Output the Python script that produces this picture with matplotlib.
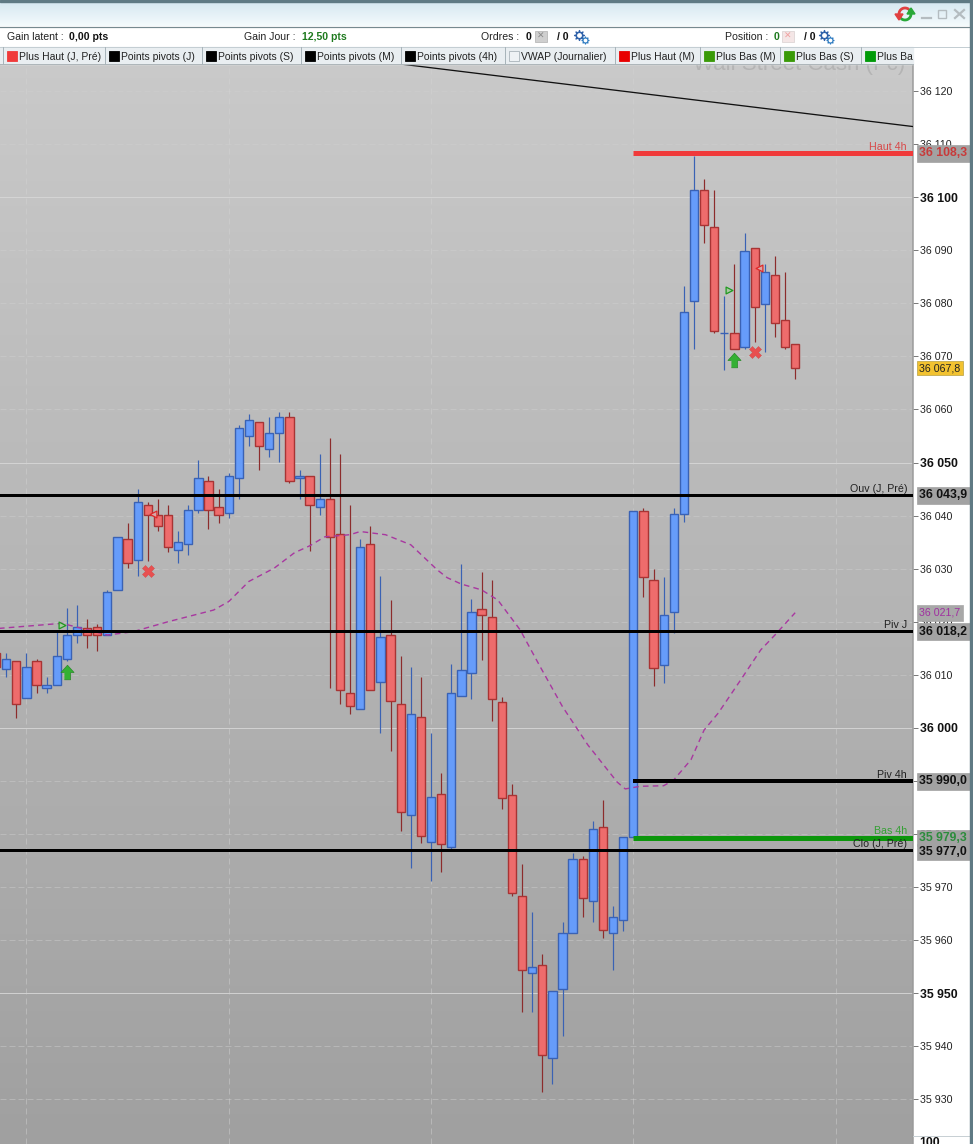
import numpy as np
import matplotlib
matplotlib.use("Agg")
import matplotlib.pyplot as plt
from matplotlib.patches import Rectangle, Polygon

plt.rcParams['font.family'] = ['Liberation Sans', 'DejaVu Sans']

# candles, first one is cut by the left edge
candle_idx = list(range(-1, 79))
opens = [36014.1, 36011.1, 36012.6, 36005.6, 36012.6, 36007.5, 36008.0, 36012.9, 36017.5, 36018.8,
         36019.0, 36017.5, 36025.9, 36035.6, 36031.6, 36042.0, 36040.1, 36040.1, 36033.5, 36034.6,
         36041.0, 36046.5, 36041.6, 36040.5, 36047.1, 36055.0, 36057.6, 36052.5, 36055.5, 36058.5,
         36047.0, 36047.4, 36041.6, 36043.1, 36036.5, 36006.5, 36003.5, 36034.6, 36008.6, 36017.5,
         36004.5, 35983.5, 36002.0, 35978.5, 35987.5, 35977.5, 36006.0, 36010.3, 36022.4, 36020.9,
         36004.8, 35987.3, 35968.3, 35953.8, 35955.3, 35937.8, 35950.8, 35961.3, 35975.3, 35967.3,
         35981.3, 35961.3, 35963.8, 35979.4, 36040.8, 36027.8, 36011.8, 36021.8, 36040.3, 36080.4,
         36101.3, 36094.3, 36074.4, 36074.4, 36071.7, 36090.4, 36079.8, 36085.3, 36076.8, 36072.3]
highs = [36014.6, 36014.2, 36012.6, 36014.2, 36012.9, 36009.6, 36018.0, 36022.6, 36023.1, 36020.5,
         36019.5, 36025.9, 36035.9, 36038.6, 36045.0, 36042.5, 36043.1, 36042.0, 36037.1, 36042.0,
         36050.4, 36047.4, 36045.0, 36048.0, 36057.0, 36059.1, 36057.6, 36058.5, 36059.5, 36059.5,
         36048.6, 36047.4, 36051.6, 36054.6, 36051.6, 36042.0, 36035.6, 36038.0, 36028.6, 36024.1,
         36013.5, 36011.4, 36009.6, 35999.0, 35991.5, 36012.0, 36030.8, 36024.3, 36029.3, 36027.8,
         36005.8, 35989.4, 35974.3, 35965.3, 35957.4, 35950.4, 35963.4, 35976.4, 35975.8, 35982.4,
         35986.4, 35966.4, 35979.4, 36040.8, 36041.4, 36029.9, 36028.4, 36041.4, 36083.2, 36107.8,
         36103.4, 36101.3, 36081.3, 36087.4, 36093.2, 36090.4, 36087.4, 36088.9, 36085.9, 36072.3]
lows = [36010.0, 36009.5, 36001.9, 36005.6, 36006.5, 36006.5, 36008.0, 36012.6, 36016.0, 36015.0,
        36014.5, 36017.5, 36025.9, 36030.1, 36028.6, 36031.4, 36037.1, 36033.1, 36031.0, 36032.5,
        36040.5, 36037.4, 36038.6, 36039.5, 36043.1, 36053.1, 36048.6, 36051.0, 36050.1, 36046.1,
        36043.1, 36033.4, 36040.1, 36007.5, 36004.5, 36002.6, 36003.5, 36007.1, 35999.0, 35995.6,
        35980.5, 35973.6, 35978.4, 35971.2, 35972.9, 35977.1, 36006.0, 36005.4, 36012.8, 36001.3,
        35984.8, 35968.3, 35946.4, 35946.4, 35931.4, 35932.9, 35941.9, 35961.3, 35964.3, 35963.4,
        35960.4, 35954.3, 35961.8, 35979.4, 36024.7, 36007.8, 36008.4, 36017.8, 36038.8, 36071.4,
        36091.3, 36074.4, 36067.4, 36071.4, 36071.4, 36072.7, 36070.8, 36073.7, 36071.4, 36065.8]
closes = [36011.5, 36012.9, 36004.5, 36011.4, 36008.0, 36008.0, 36013.5, 36017.5, 36019.0, 36017.5,
          36017.5, 36025.6, 36035.9, 36031.0, 36042.5, 36040.1, 36038.0, 36034.0, 36035.0, 36041.0,
          36047.1, 36041.0, 36040.1, 36047.4, 36056.5, 36058.0, 36053.1, 36055.5, 36058.5, 36046.5,
          36047.4, 36042.0, 36043.1, 36035.9, 36007.1, 36004.1, 36034.0, 36007.1, 36017.1, 36005.0,
          35984.1, 36002.6, 35979.6, 35986.9, 35978.1, 36006.5, 36010.9, 36021.8, 36021.2, 36005.4,
          35986.8, 35968.9, 35954.3, 35954.9, 35938.3, 35950.4, 35961.3, 35975.3, 35967.9, 35980.9,
          35961.9, 35964.3, 35979.4, 36040.8, 36028.4, 36011.2, 36021.2, 36040.3, 36078.3, 36101.3,
          36094.7, 36074.8, 36074.4, 36071.4, 36089.8, 36079.3, 36085.9, 36076.3, 36071.7, 36067.8]

# VWAP
vwap_idx = [-1, 5.5, 8, 10, 12.5, 16, 20.5, 22, 24, 26.5, 28.5, 30, 31.5, 34, 35, 37.5, 40, 42.6, 43.6,
            45, 47, 48.6, 50.8, 52.8, 55, 57.5, 60.4, 61.2, 62.7, 65, 66, 67.7, 69, 70.4, 72.6, 74.6, 76, 78]
vwap = [36018.7, 36019.7, 36018.5, 36017.5, 36018.1, 36020.0, 36022.2, 36023.8, 36027.6, 36030.1,
        36033.0, 36034.3, 36036.0, 36036.4, 36037.0, 36036.4, 36034.5, 36029.8, 36028.3, 36027.1,
        36026.0, 36024.1, 36018.5, 36011.5, 36004.0, 35996.8, 35989.8, 35988.5, 35989.0, 35989.1,
        35990.2, 35994.0, 35999.6, 36002.8, 36009.0, 36014.7, 36017.5, 36021.7]

# levels: price, start index, width px, colour, name
level_prices = [36108.3, 36043.9, 36018.2, 35990.0, 35979.3, 35977.0]
level_starts = [62, -1, -1, 62, 62, -1]
level_names = ['Haut 4h', 'Ouv (J, Pré)', 'Piv J', 'Piv 4h', 'Bas 4h', 'Clo (J, Pré)']
level_tags = ['36 108,3', '36 043,9', '36 018,2', '35 990,0', '35 979,3', '35 977,0']
level_colors = ['#f03a3a', 'black', 'black', 'black', '#0c960c', 'black']
level_widths = [5, 3, 3, 4, 5, 3]
name_colors = ['#d84848', '#222222', '#222222', '#222222', '#35a035', '#222222']
tag_colors = ['#c83a3a', '#111111', '#111111', '#111111', '#2c8c3c', '#111111']
tag_shift = [0, 0, 0, 0, 0, -1.3]

trend_x = [38.9, 89.65]
trend_y = [36125.1, 36113.3]

grid_idx = [2, 22, 42, 62, 82]
tick_prices = list(range(35930, 36130, 10))

buy_idx, buy_price = [6, 72], [36010.5, 36069.3]
sell_idx, sell_price = [14, 74], [36029.6, 36070.8]
entry_idx, entry_price = [5.5, 71.5], [36019.3, 36082.5]
exit_idx, exit_price = [14.5, 74.4], [36040.3, 36086.7]

tab_names = ['Plus Haut (J, Pré)', 'Points pivots (J)', 'Points pivots (S)', 'Points pivots (M)',
             'Points pivots (4h)', 'VWAP (Journalier)', 'Plus Haut (M)', 'Plus Bas (M)',
             'Plus Bas (S)', 'Plus Bas (J, Pré)']
tab_colors = ['#f03a3a', 'black', 'black', 'black', 'black', '#eef2f5', '#e80000', '#3a9a08', '#3a9a08', '#009a08']
tab_left = [3, 105, 202, 301, 401, 505, 615, 700, 780, 861]

W, H = 973, 1144
fig = plt.figure(figsize=(W / 100, H / 100), dpi=100, facecolor='white')


def px(v):
    return v * 0.72


# price chart
ax = fig.add_axes([0, (H - 1144) / H, 913 / W, (1144 - 48) / H], zorder=1)
ax.imshow(np.linspace(0, 1, 256).reshape(-1, 1), extent=(0, 1, 0, 1), transform=ax.transAxes,
          aspect='auto', cmap=matplotlib.colors.LinearSegmentedColormap.from_list('bg', ['#cacaca', '#a0a0a0']),
          zorder=0)
ax.set_xlim(-0.61, 89.65)
ax.set_ylim(35921.6, 36128.1)

for p in tick_prices:
    if p % 50 == 0:
        ax.axhline(p, color='#d8d8d8', lw=px(1), alpha=0.85, zorder=1)
    else:
        ax.axhline(p, color='#d0d0d0', lw=px(1), ls=(0, (6, 3)), alpha=0.45, zorder=1)
for g in grid_idx:
    ax.axvline(g, color='#d4d4d4', lw=px(1), ls=(0, (6, 4)), alpha=0.45, zorder=1)

for i, o, h, l, c in zip(candle_idx, opens, highs, lows, closes):
    up = c >= o
    wick = '#3a62b4' if up else '#8c2c2c'
    face = '#669cfa' if up else '#ee6c6c'
    edge = '#3a62b4' if up else '#a83434'
    ax.vlines(i, l, h, color=wick, lw=px(1.2), zorder=3)
    ax.bar(i, abs(c - o), bottom=min(o, c), width=0.82, color=face, edgecolor=edge, linewidth=px(1.4), zorder=4)

ax.plot(vwap_idx, vwap, color='#a838a0', lw=px(1.4), ls=(0, (4, 3)), zorder=5)
ax.plot(trend_x, trend_y, color='#111111', lw=px(1.3), zorder=6)

for p, s, c, w, n, nc in zip(level_prices, level_starts, level_colors, level_widths, level_names, name_colors):
    ax.plot([s, 89.65], [p, p], color=c, lw=px(w), solid_capstyle='butt', zorder=6)
    ax.annotate(n, xy=(1, p), xycoords=ax.get_yaxis_transform(), xytext=(-6 * 0.72, 1.0),
                textcoords='offset points', ha='right', va='bottom', fontsize=7.7, color=nc, zorder=7)

up_arrow = [(-1.7, -4), (1.7, -4), (1.7, 0), (3.6, 0), (0, 4), (-3.6, 0), (-1.7, 0)]
ax.scatter(buy_idx, buy_price, marker=up_arrow, s=110, color='#34b034', edgecolors='#2a8a2a', linewidths=0.5, zorder=7)
ax.scatter(sell_idx, sell_price, marker='X', s=75, color='#e85050', edgecolors='#d04848', linewidths=0.3, zorder=7)
ax.scatter(entry_idx, entry_price, marker='>', s=24, facecolors='#a8c8a0', edgecolors='#1f9a1f', linewidths=0.9, zorder=7)
ax.scatter(exit_idx, exit_price, marker='<', s=24, facecolors='#d8a8a8', edgecolors='#e02828', linewidths=0.9, zorder=7)

# price scale
ax.yaxis.tick_right()
ax.set_yticks(tick_prices)
labels = ax.set_yticklabels(['%d %03d' % (p // 1000, p % 1000) for p in tick_prices])
for p, t in zip(tick_prices, labels):
    if p % 50 == 0:
        t.set_fontweight('bold')
        t.set_fontsize(8.8)
        t.set_color('#111111')
    else:
        t.set_fontsize(7.7)
        t.set_color('#222222')
ax.tick_params(axis='y', length=3.6, width=0.7, color='#777777', pad=1.2)
ax.set_xticks([])
for name in ['top', 'left', 'bottom']:
    ax.spines[name].set_visible(False)
ax.spines['right'].set_color('#9a9a9a')
ax.spines['right'].set_linewidth(px(1.5))

for p, tag, tc, sh in zip(level_prices, level_tags, tag_colors, tag_shift):
    ax.annotate(tag, xy=(1, p), xycoords=ax.get_yaxis_transform(), xytext=(4.6, -0.2 + sh),
                textcoords='offset points', ha='left', va='center', fontsize=8.8, fontweight='bold',
                color=tc, annotation_clip=False, zorder=9,
                bbox=dict(boxstyle='square,pad=0.2', fc='#a2a2a2', ec='#a2a2a2', lw=0.5))
ax.annotate('36 067,8', xy=(1, 36067.8), xycoords=ax.get_yaxis_transform(), xytext=(4.6, -0.2),
            textcoords='offset points', ha='left', va='center', fontsize=7.7, color='#222222',
            annotation_clip=False, zorder=9, bbox=dict(boxstyle='square,pad=0.2', fc='#f2c230', ec='#b8a040', lw=0.5))
ax.annotate('36 021,7', xy=(1, 36021.7), xycoords=ax.get_yaxis_transform(), xytext=(4.6, -0.2),
            textcoords='offset points', ha='left', va='center', fontsize=7.7, color='#a030a0',
            annotation_clip=False, zorder=9, bbox=dict(boxstyle='square,pad=0.25', fc='#a8a8a8', ec='#a8a8a8', lw=0.5))

# window chrome, drawn in pixel coordinates
ui = fig.add_axes([0, 0, 1, 1], zorder=2)
ui.patch.set_visible(False)
ui.axis('off')
ui.imshow(np.linspace(0, 1, 64).reshape(-1, 1), extent=(0, W, 26, 2), aspect='auto',
          cmap=matplotlib.colors.LinearSegmentedColormap.from_list('hd', ['#d6e8f1', '#f4fafc']), zorder=1)
ui.set_xlim(0, W)
ui.set_ylim(H, 0)
ui.add_patch(Rectangle((0, 0), W, 2, color='#5f7a84', zorder=2))
ui.add_patch(Rectangle((970, 0), 3, H, color='#5f7a84', zorder=6))
ui.plot([0, W], [26.5, 26.5], color='#76898f', lw=px(1.2), zorder=2)
ui.add_patch(Rectangle((0, 27), W, 20, color='white', zorder=1))
ui.text(905, 70, 'Wall Street Cash (Fc)', fontsize=16, color='#b4b4b4', ha='right', va='baseline', zorder=1.5)

# tab bar
ui.add_patch(Rectangle((0, 47), 913, 17, color='#e9eef1', zorder=2))
ui.plot([0, 973], [47, 47], color='#c4ced3', lw=px(1), zorder=3)
ui.plot([0, 913], [64, 64], color='#aeb6ba', lw=px(1), zorder=3)
clip = Rectangle((0, 40), 913, 30, transform=ui.transData)
for name, col, x in zip(tab_names, tab_colors, tab_left):
    ui.plot([x, x], [47, 64], color='#a8b4ba', lw=px(1), zorder=3)
    ui.add_patch(Rectangle((x + 3.5, 51), 10, 10, fc=col, ec='#aab4ba' if col == '#eef2f5' else col, lw=0.6, zorder=3))
    t = ui.text(x + 16, 56.5, name, fontsize=7.5, color='#222222', ha='left', va='center', zorder=4, clip_on=True)
    t.set_clip_path(clip)

# header text
header = [(7, 'Gain latent :', 'normal', '#222222'), (69, '0,00 pts', 'bold', '#111111'),
          (244, 'Gain Jour :', 'normal', '#222222'), (302, '12,50 pts', 'bold', '#1e7a1e'),
          (481, 'Ordres :', 'normal', '#222222'), (526, '0', 'bold', '#111111'),
          (557, '/ 0', 'bold', '#111111'), (725, 'Position :', 'normal', '#222222'),
          (774, '0', 'bold', '#1e7a1e'), (804, '/ 0', 'bold', '#111111')]
for x, s, w, c in header:
    ui.text(x, 37, s, fontsize=7.6, fontweight=w, color=c, ha='left', va='center', zorder=4)

# small icons
ui.add_patch(Rectangle((535, 31), 12, 11, fc='#cfcfcf', ec='#b0b0b0', lw=0.5, zorder=4))
ui.text(541, 36.5, '✕', fontsize=6.5, color='#8a8a8a', ha='center', va='center', family='DejaVu Sans', zorder=5)
ui.add_patch(Rectangle((782, 31), 12, 11, fc='#f4e6e6', ec='#d8d0d0', lw=0.5, zorder=4))
ui.text(788, 36.5, '✕', fontsize=6.5, color='#f0a0a0', ha='center', va='center', family='DejaVu Sans', zorder=5)
for gx in [578.5, 823.5]:
    ui.scatter([gx], [35], marker=(8, 1, 0), s=50, color='#2c5fa8', zorder=5)
    ui.scatter([gx], [35], marker='o', s=6, color='white', zorder=6)
    ui.scatter([gx + 6], [39.5], marker=(8, 1, 0), s=24, color='#2c7ac0', zorder=5)
    ui.scatter([gx + 6], [39.5], marker='o', s=3, color='white', zorder=6)

# window buttons
ui.plot([922, 931], [18, 18], color='#b4bcc0', lw=1.6, zorder=4)
ui.add_patch(Rectangle((938, 10), 8, 8, fc='none', ec='#b4bcc0', lw=1, zorder=4))
ui.plot([955, 964], [10, 18], color='#b4bcc0', lw=1.6, zorder=4)
ui.plot([955, 964], [18, 10], color='#b4bcc0', lw=1.6, zorder=4)

# refresh icon, a red and a green half circle with heads
ang_red = np.radians(np.linspace(-60, -215, 20))
ang_green = np.radians(np.linspace(120, -35, 20))
ui.plot(905 + 6 * np.cos(ang_red), 14 + 6 * np.sin(ang_red), color='#e04040', lw=2, zorder=4)
ui.plot(905 + 6 * np.cos(ang_green), 14 + 6 * np.sin(ang_green), color='#28a838', lw=2, zorder=4)
ui.add_patch(Polygon([(895, 14), (903, 14), (899, 20)], color='#e04040', zorder=5))
ui.add_patch(Polygon([(907, 14), (915, 14), (911, 8)], color='#28a838', zorder=5))

# bottom of the scale, next pane starts here
ui.plot([913, 970], [1136, 1136], color='#c8d0d4', lw=px(1), zorder=3)
ui.text(919, 1143, '100', fontsize=8.8, fontweight='bold', color='#111111', va='center', ha='left', zorder=3)

fig.savefig('out.png', dpi=100, facecolor='white')
